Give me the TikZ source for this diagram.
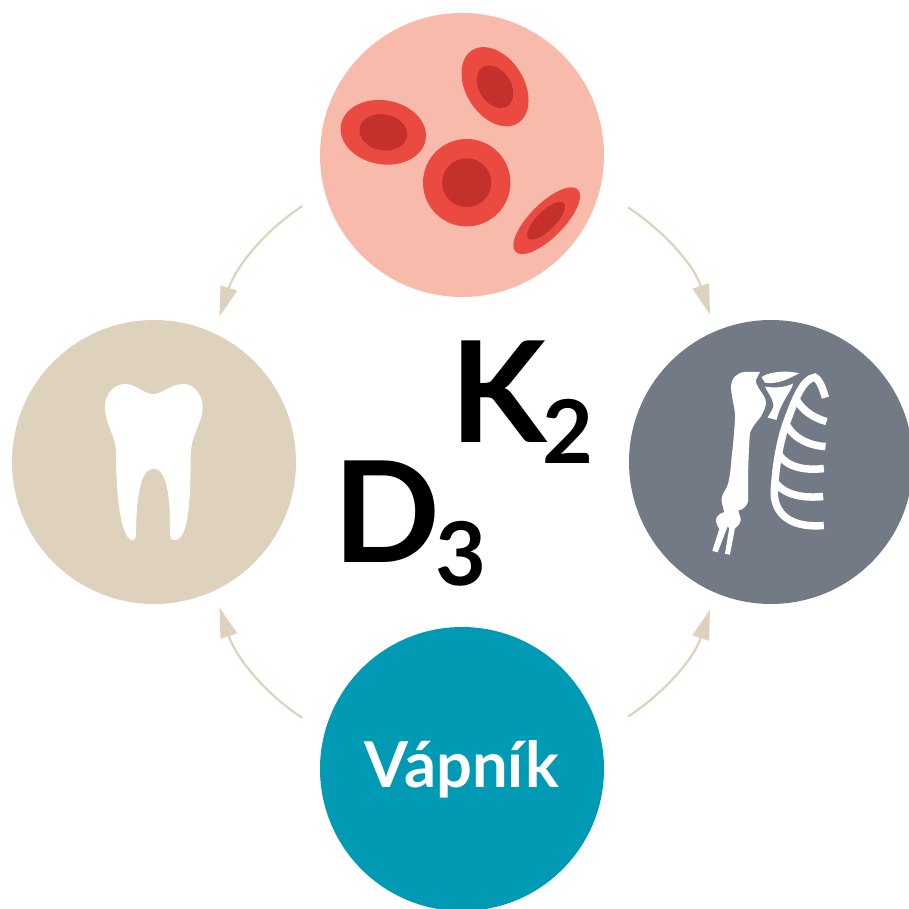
\documentclass[tikz,border=0pt]{standalone}
\usepackage{fontspec}
\setmainfont{Lato}
\newfontfamily\labelfont{Lato Bold}
\usetikzlibrary{arrows.meta}
\definecolor{blush}{HTML}{F8BBAB}
\definecolor{cellred}{HTML}{EB4A40}
\definecolor{celldark}{HTML}{C4312C}
\definecolor{sand}{HTML}{DED2BC}
\definecolor{slate}{HTML}{717A85}
\definecolor{teal}{HTML}{019AB5}

\begin{document}
\begin{tikzpicture}[
  disc/.style={circle, minimum size=28.4mm, inner sep=0pt},
  flow/.style={-{Triangle[length=3mm,width=1.7mm]}, line width=.22mm, draw=sand, shorten <=2.6mm, shorten >=1.7mm},
  vitamin/.style={inner sep=0pt, text=black, font=\labelfont\fontsize{40}{40}\selectfont},
  rib/.style={draw=white, line width=.75mm},
  icon/.style={shift={(0,9.08)}, x=.1mm, y=-.1mm},
  bones/.style={shift={(6.80,5.58)}, x=.0333mm, y=-.0333mm}
]
\useasboundingbox (0,0) rectangle (9.09,9.08);
\clip (0,0) rectangle (9.09,9.08);

\node[disc, fill=blush] (blood) at (4.62,7.53) {};
\node[disc, fill=sand] (teeth) at (1.54,4.46) {};
\node[disc, fill=slate] (bone) at (7.71,4.46) {};
\node[disc, fill=teal, text=white, font=\labelfont\fontsize{18}{18}\selectfont] (calcium) at (4.62,1.39) {Vápník};

\draw[flow] (blood.195) to[out=213, in=72] (teeth.65);
\draw[flow, shorten <=3.3mm] (blood.-14) to[out=-33, in=108] (bone.113);
\draw[flow] (calcium.165) to[out=147, in=-72] (teeth.-65);
\draw[flow, shorten <=3.3mm] (calcium.14) to[out=33, in=-108] (bone.-113);

\node[vitamin] (k2) at (5.22,5.06) {K\kern-.5mm\raisebox{-2.1mm}{\fontsize{25}{25}\selectfont 2}};
\node[vitamin] (d3) at (4.10,3.84) {D\kern-.5mm\raisebox{-2.3mm}{\fontsize{25}{25}\selectfont 3}};

% red cells
\begin{scope}[icon]
\fill[cellred] (383.3,132.3) circle [x radius=43, y radius=32, rotate=-10];
\fill[celldark] (383.3,132.3) circle [x radius=24, y radius=18, rotate=-10];
\fill[cellred] (495,86.7) circle [x radius=43, y radius=29, rotate=-58];
\fill[celldark] (495,86.7) circle [x radius=23, y radius=16, rotate=-58];
\fill[cellred] (466.7,182.7) circle [radius=43.7];
\fill[celldark] (466.7,182.7) circle [radius=24.5];
\fill[cellred] (546.7,220.7) circle [x radius=44, y radius=17, rotate=45];
\fill[celldark] (546,220.7) circle [x radius=25, y radius=9.5, rotate=45];

% tooth
\fill[white] (153.3,394) .. controls (163,394) and (170,384) .. (183.3,384)
  .. controls (195,384) and (203,396) .. (202.7,408)
  .. controls (202.5,422) and (191,435) .. (190.7,455)
  .. controls (190.5,490) and (190,540) .. (175,540)
  .. controls (170,540) and (170,537) .. (170,530)
  .. controls (170,500) and (168,468.7) .. (153.3,468.7)
  .. controls (140,468.7) and (136.5,500) .. (136,530)
  .. controls (136,537) and (135.5,540) .. (132.7,540)
  .. controls (120,540) and (116,490) .. (116,453)
  .. controls (116,435) and (105,425) .. (105,407)
  .. controls (105,395) and (113,384) .. (125,384)
  .. controls (137,384) and (143,394) .. (153.3,394) -- cycle;
\end{scope}

% arm and ribs
\begin{scope}[bones]
\fill[white] (240,66) -- (195,66) .. controls (170,68) and (155,85) .. (153,110)
  .. controls (155,150) and (168,180) .. (165,210)
  .. controls (162,260) and (158,300) .. (155,320)
  .. controls (152,370) and (147,390) .. (145,400)
  .. controls (140,420) and (125,430) .. (125,450)
  .. controls (125,470) and (133,475) .. (133,487)
  .. controls (120,490) and (106,500) .. (108,515)
  .. controls (109,525) and (116,530) .. (118,538)
  -- (97,603) -- (113,608) -- (143,530) -- (148,535) -- (135,612) -- (150,615) -- (165,535)
  .. controls (175,530) and (185,515) .. (182,505)
  .. controls (180,495) and (175,490) .. (175,482)
  .. controls (190,480) and (205,465) .. (205,450)
  .. controls (203,400) and (205,320) .. (210,250)
  .. controls (220,220) and (245,205) .. (250,185)
  .. controls (262,165) and (260,150) .. (250,135)
  .. controls (240,120) and (225,100) .. (228,90) -- cycle;
\fill[white] (245,82) .. controls (255,70) and (310,58) .. (358,70)
  .. controls (330,85) and (290,105) .. (255,98) -- cycle;
\fill[white] (255,110) .. controls (285,115) and (320,112) .. (340,100)
  .. controls (335,125) and (305,150) .. (290,210) -- (263,203)
  .. controls (270,190) and (285,170) .. (280,160) .. controls (275,140) and (262,125) .. (255,110) -- cycle;
\draw[rib] (440,215) .. controls (405,205) and (370,185) .. (350,150);
\draw[rib] (437,290) .. controls (395,288) and (345,270) .. (320,225);
\draw[rib] (432,356) .. controls (380,362) and (325,355) .. (298,315);
\draw[rib] (430,440) .. controls (380,445) and (320,440) .. (288,400);
\draw[rib] (432,527) .. controls (350,535) and (285,505) .. (283,430)
  .. controls (285,380) and (295,280) .. (325,205)
  .. controls (345,150) and (370,85) .. (405,82)
  .. controls (420,90) and (430,120) .. (437,143);
\end{scope}

\end{tikzpicture}
\end{document}
